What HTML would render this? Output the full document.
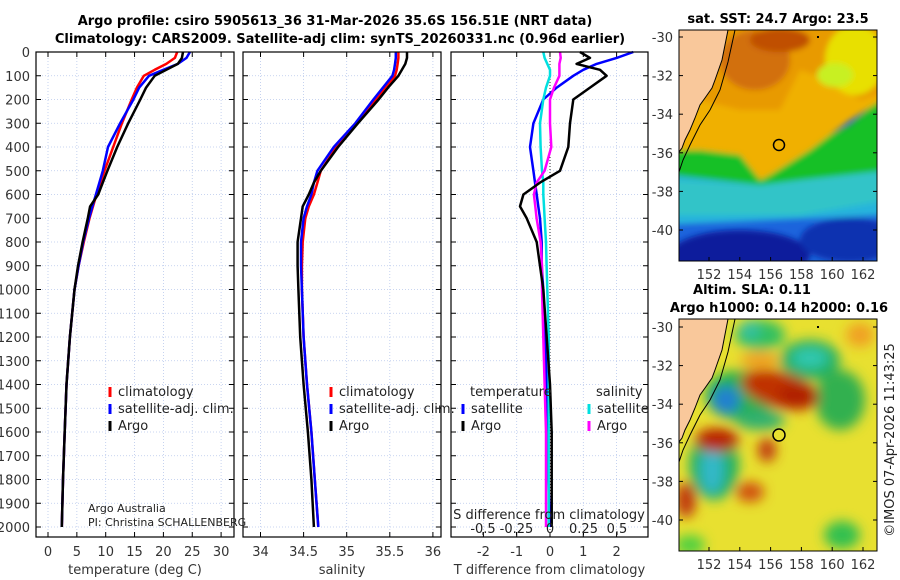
<!DOCTYPE html>
<html><head><meta charset="utf-8"><style>
body{margin:0;background:#fff;}
svg{display:block;font-family:"DejaVu Sans","Liberation Sans",sans-serif;}
</style></head><body>
<svg id="c" width="900" height="580" viewBox="0 0 900 580">
<defs>
<filter id="bl" x="-20%" y="-20%" width="140%" height="140%"><feGaussianBlur stdDeviation="6"/></filter>
<filter id="bl2" x="-20%" y="-20%" width="140%" height="140%"><feGaussianBlur stdDeviation="3"/></filter>
<clipPath id="cm1"><rect x="679" y="30" width="198" height="231"/></clipPath>
<clipPath id="cm2"><rect x="679" y="319" width="198" height="232"/></clipPath>
</defs>
<text x="335" y="25" text-anchor="middle" font-size="13" font-weight="bold">Argo profile: csiro 5905613_36 31-Mar-2026 35.6S 156.51E (NRT data)</text>
<text x="340" y="43" text-anchor="middle" font-size="13" font-weight="bold">Climatology: CARS2009. Satellite-adj clim: synTS_20260331.nc (0.96d earlier)</text>

<g id="maps">
<g clip-path="url(#cm1)">
<rect x="679" y="30" width="198" height="231" fill="#1c64dc"/>
<g filter="url(#bl2)">
<polygon points="670,165 890,150 890,215 670,225" fill="#26b4dc"/>
<polygon points="670,180 760,185 800,175 890,160 890,200 800,215 670,215" fill="#30c4c8"/>
<ellipse cx="740" cy="255" rx="70" ry="25" fill="#0a1e9c"/>
<ellipse cx="850" cy="240" rx="50" ry="22" fill="#0c30b0"/>
<polygon points="670,140 760,155 800,150 850,125 890,90 890,170 800,180 760,185 670,175" fill="#18c028"/>
<polygon points="670,20 890,20 890,95 850,120 810,150 770,175 760,180 740,155 700,150 670,150" fill="#f0b000"/>
<polygon points="670,20 890,20 890,90 860,100 830,80 800,70 780,110 740,110 700,100" fill="#e89a00"/>
<ellipse cx="755" cy="60" rx="35" ry="30" fill="#d27008"/>
<ellipse cx="780" cy="40" rx="30" ry="12" fill="#c05000"/>
<ellipse cx="855" cy="60" rx="30" ry="35" fill="#e8e000"/>
<ellipse cx="835" cy="75" rx="18" ry="12" fill="#c8f020"/>
</g>
<polygon points="679,30 728,30 722,60 715,80 712,88 705,98 700,105 695,118 690,130 685,140 682,148 679,152" fill="#f9c89b" stroke="#000" stroke-width="1"/>
<polyline points="735,30 728,62 720,90 710,110 700,125 690,145 683,160 679,172" fill="none" stroke="#000" stroke-width="1"/>
<circle cx="779" cy="145" r="5.5" fill="none" stroke="#000" stroke-width="1.5"/>
<rect x="817" y="36" width="2" height="2" fill="#000"/>
</g>
<rect x="679" y="30" width="198" height="231" fill="none" stroke="#000"/>
<text x="778" y="23" text-anchor="middle" font-size="13" font-weight="bold">sat. SST: 24.7 Argo: 23.5</text>

<g clip-path="url(#cm2)">
<rect x="679" y="319" width="198" height="232" fill="#e8e030"/>
<g filter="url(#bl)">
<ellipse cx="760" cy="335" rx="25" ry="15" fill="#30c060"/>
<ellipse cx="750" cy="330" rx="10" ry="10" fill="#30c0a0"/>
<ellipse cx="810" cy="360" rx="30" ry="20" fill="#20b060"/>
<ellipse cx="810" cy="358" rx="18" ry="10" fill="#30c8b0"/>
<ellipse cx="840" cy="400" rx="25" ry="30" fill="#30b050"/>
<ellipse cx="740" cy="395" rx="35" ry="25" fill="#20b050"/>
<ellipse cx="726" cy="400" rx="14" ry="14" fill="#2080d0"/>
<ellipse cx="714" cy="465" rx="25" ry="35" fill="#20b060"/>
<ellipse cx="712" cy="470" rx="12" ry="24" fill="#30b8c8"/>
<ellipse cx="760" cy="420" rx="25" ry="10" fill="#30b070"/>
<ellipse cx="842" cy="535" rx="18" ry="14" fill="#30c050"/>
<ellipse cx="690" cy="545" rx="15" ry="10" fill="#50d040"/>
<ellipse cx="780" cy="390" rx="40" ry="18" fill="#c03000" transform="rotate(15 780 390)"/>
<ellipse cx="798" cy="395" rx="20" ry="12" fill="#b02000"/>
<ellipse cx="717" cy="440" rx="22" ry="12" fill="#b82000"/>
<ellipse cx="767" cy="450" rx="9" ry="12" fill="#c03810"/>
<ellipse cx="686" cy="500" rx="10" ry="18" fill="#c03810"/>
<ellipse cx="750" cy="492" rx="14" ry="10" fill="#d05010"/>
<ellipse cx="860" cy="335" rx="14" ry="12" fill="#f0a020"/>
<ellipse cx="760" cy="360" rx="20" ry="8" fill="#f0a020"/>
</g>
<polygon points="679,319 728,319 722,350 715,370 712,378 705,388 700,395 695,408 690,420 685,430 682,438 679,442" fill="#f9c89b" stroke="#000" stroke-width="1"/>
<polyline points="735,319 728,352 720,380 710,400 700,415 690,435 683,450 679,462" fill="none" stroke="#000" stroke-width="1"/>
<circle cx="779" cy="435" r="6" fill="#e8e030" stroke="#000" stroke-width="1.5"/>
<rect x="817" y="326" width="2" height="2" fill="#000"/>
</g>
<rect x="679" y="319" width="198" height="232" fill="none" stroke="#000"/>
<text x="752" y="294" text-anchor="middle" font-size="13" font-weight="bold">Altim. SLA: 0.11</text>
<text x="779" y="312" text-anchor="middle" font-size="13" font-weight="bold">Argo h1000: 0.14 h2000: 0.16</text>
<text transform="translate(894,440) rotate(-90)" text-anchor="middle" font-size="13" fill="#222">©IMOS 07-Apr-2026 11:43:25</text>
</g>
<g id="plots"></g>
</svg>
<script>
const depths=[0,25,50,75,100,150,200,300,400,500,550,600,650,700,800,900,1000,1200,1400,1600,1800,2000];
const tArgo=[23.4,23.2,22.5,20.5,18.5,17,16,13.9,12,10.3,9.5,8.7,7.3,6.9,6,5.2,4.6,3.8,3.2,2.9,2.6,2.4];
const tClim=[22.4,22,20.5,18.5,16.6,15.4,14.5,12.8,11.3,9.8,9.1,8.4,7.8,7.2,6.2,5.3,4.6,3.8,3.2,2.9,2.6,2.4];
const tSat=[24.6,24,22.5,20,17.5,15.8,14.8,12.5,10.4,9.5,8.9,8.3,7.7,7.1,6.1,5.3,4.6,3.8,3.2,2.9,2.6,2.4];
const sArgo=[35.7,35.7,35.68,35.64,35.6,35.48,35.37,35.13,34.9,34.7,34.62,34.56,34.49,34.47,34.43,34.43,34.44,34.46,34.5,34.55,34.59,34.62];
const sClim=[35.6,35.6,35.59,35.58,35.56,35.45,35.34,35.12,34.88,34.7,34.66,34.62,34.56,34.52,34.49,34.48,34.48,34.5,34.54,34.59,34.63,34.67];
const sSat=[35.57,35.57,35.56,35.55,35.53,35.42,35.31,35.1,34.85,34.66,34.62,34.59,34.54,34.5,34.47,34.47,34.48,34.5,34.54,34.59,34.63,34.67];
const dT_Argo=[0.9,1.2,0.8,1.5,1.7,1.2,0.7,0.6,0.55,0.3,-0.3,-0.8,-0.9,-0.7,-0.4,-0.3,-0.2,-0.1,0,0.05,0.05,0.05];
const dT_Sat=[2.5,2.0,1.4,1.0,0.7,0.2,-0.2,-0.5,-0.6,-0.5,-0.45,-0.4,-0.35,-0.3,-0.25,-0.25,-0.2,-0.15,-0.1,-0.05,-0.05,0];
const dS_Argo=[0.075,0.08,0.07,0.07,0.07,0.03,0,0,0.01,-0.04,-0.1,-0.12,-0.11,-0.1,-0.07,-0.06,-0.06,-0.05,-0.04,-0.03,-0.03,-0.03];
const dS_Sat=[-0.05,-0.04,-0.02,0,0,-0.03,-0.05,-0.075,-0.07,-0.06,-0.05,-0.05,-0.045,-0.04,-0.03,-0.025,-0.02,-0.01,-0.01,-0.01,-0.01,-0.01];
const depthTicks=[0,100,200,300,400,500,600,700,800,900,1000,1100,1200,1300,1400,1500,1600,1700,1800,1900,2000];
const tTicks=[0,5,10,15,20,25,30];
const sTicks=[34,34.5,35,35.5,36];
const dTTicks=[-2,-1,0,1,2];
const dSTicks=[-0.5,-0.25,0,0.25,0.5];
const dSLabels=["-0.5","-0.25","0","0.25","0.5"];

const NS="http://www.w3.org/2000/svg";
const root=document.getElementById('plots');
function mk(tag,at,parent){const e=document.createElementNS(NS,tag);for(const k in at)e.setAttribute(k,at[k]);(parent||root).appendChild(e);return e;}
const Y0=52,YB=537;
const py=d=>Y0+d*0.2375;
const tx=t=>48+t*5.77;
const sx=s=>260.5+(s-34)*86.2;
const dx=t=>550+t*33.3;
const dsx=s=>550+s*134;
const panels=[{l:36,r:234,ticks:tTicks,f:tx,lab:t=>String(t),xl:"temperature (deg C)",name:"temperature"},
 {l:243,r:441,ticks:sTicks,f:sx,lab:t=>String(t),xl:"salinity",name:"salinity"},
 {l:451,r:648,ticks:dTTicks,f:dx,lab:t=>String(t),xl:"T difference from climatology",name:"difference"}];
panels.forEach((p,pi)=>{
  const g=mk('g',{});
  
  
  depthTicks.forEach(d=>{const l=mk('line',{x1:p.l,x2:p.r,y1:py(d),y2:py(d),stroke:'#b8c8ec','stroke-width':0.8,'stroke-dasharray':'1,2'},g);
    
    mk('line',{x1:p.l,x2:p.l+5,y1:py(d),y2:py(d),stroke:'#000'},g);mk('line',{x1:p.r-5,x2:p.r,y1:py(d),y2:py(d),stroke:'#000'},g);
  });
  p.ticks.forEach(t=>{const x=p.f(t);const l=mk('line',{x1:x,x2:x,y1:Y0,y2:YB,stroke:'#b8c8ec','stroke-width':0.8,'stroke-dasharray':'1,2'},g);
    
    mk('line',{x1:x,x2:x,y1:YB-5,y2:YB,stroke:'#000'},g);mk('line',{x1:x,x2:x,y1:Y0,y2:Y0+5,stroke:'#000'},g);
    const tt=mk('text',{x:x,y:556,'text-anchor':'middle','font-size':13,fill:'#333'},g);tt.textContent=p.lab(t);
    
  });
  const xl=mk('text',{x:(p.l+p.r)/2,y:574,'text-anchor':'middle','font-size':13,fill:'#333'},g);xl.textContent=p.xl;
  
});
depthTicks.forEach(d=>{const t=mk('text',{x:30,y:py(d)+5,'text-anchor':'end','font-size':13,fill:'#333'});t.textContent=d;
  });
function line(xs,fx,color,name,w){const pts=depths.map((d,i)=>fx(xs[i]).toFixed(1)+','+py(d).toFixed(1)).join(' ');
  const l=mk('polyline',{points:pts,fill:'none',stroke:color,'stroke-width':w||2.5,'stroke-linejoin':'round'});
  return l;}
line(tClim,tx,'#ff0000','temp-climatology-line');
line(tSat,tx,'#0000ff','temp-satellite-line');
line(tArgo,tx,'#000000','temp-argo-line');
line(sClim,sx,'#ff0000','sal-climatology-line');
line(sSat,sx,'#0000ff','sal-satellite-line');
line(sArgo,sx,'#000000','sal-argo-line');
mk('line',{x1:dx(0),x2:dx(0),y1:Y0,y2:YB,stroke:'#000','stroke-width':0.8,'stroke-dasharray':'1,2'});
line(dT_Sat,dx,'#0000ff','tdiff-satellite-line');
line(dS_Sat,dsx,'#00e0e0','sdiff-satellite-line');
line(dS_Argo,dsx,'#ff00ff','sdiff-argo-line');
line(dT_Argo,dx,'#000000','tdiff-argo-line');
dSTicks.forEach((s,i)=>{const x=dsx(s);mk('line',{x1:x,x2:x,y1:YB-5,y2:YB-2,stroke:'#000'});
  const t=mk('text',{x:x,y:533,'text-anchor':'middle','font-size':13,fill:'#222'});t.textContent=dSLabels[i];
  });
{const t=mk('text',{x:549,y:519,'text-anchor':'middle','font-size':13,fill:'#222'});t.textContent='S difference from climatology';
  }
panels.forEach(p=>{const r=mk('rect',{x:p.l,y:Y0,width:p.r-p.l,height:YB-Y0,fill:'none',stroke:'#000','stroke-width':1.2});
  });
function leg(x,y,color,label,name){const g=mk('g',{});
  mk('line',{x1:x,x2:x,y1:y-9,y2:y+1,stroke:color,'stroke-width':3},g);
  const t=mk('text',{x:x+8,y:y,'font-size':13,fill:'#222'},g);t.textContent=label;}
leg(110,396,'#ff0000','climatology','legend-climatology');
leg(110,413,'#0000ff','satellite-adj. clim.','legend-satellite-adj');
leg(110,430,'#000000','Argo','legend-argo');
leg(331,396,'#ff0000','climatology','legend-sal-climatology');
leg(331,413,'#0000ff','satellite-adj. clim.','legend-sal-satellite-adj');
leg(331,430,'#000000','Argo','legend-sal-argo');
{const t=mk('text',{x:470,y:396,'font-size':13,fill:'#222'});t.textContent='temperature';
 const t2=mk('text',{x:596,y:396,'font-size':13,fill:'#222'});t2.textContent='salinity';}
leg(463,413,'#0000ff','satellite','legend-tdiff-satellite');
leg(463,430,'#000000','Argo','legend-tdiff-argo');
leg(589,413,'#00e0e0','satellite','legend-sdiff-satellite');
leg(589,430,'#ff00ff','Argo','legend-sdiff-argo');
{const t=mk('text',{x:88,y:512,'font-size':11,fill:'#222'});t.textContent='Argo Australia';
 const t2=mk('text',{x:88,y:526,'font-size':11,fill:'#222'});t2.textContent='PI: Christina SCHALLENBERG';}
const latT=[-30,-32,-34,-36,-38,-40], lonT=[152,154,156,158,160,162];
const mlx=l=>709+(l-152)*15.4;
[[30,37,261],[319,327,551]].forEach(([top,y30,bot],mi)=>{
  latT.forEach(la=>{const y=y30+(-30-la)*19.3;mk('line',{x1:679,x2:683,y1:y,y2:y,stroke:'#000'});mk('line',{x1:873,x2:877,y1:y,y2:y,stroke:'#000'});
    const t=mk('text',{x:673,y:y+5,'text-anchor':'end','font-size':13,fill:'#333'});t.textContent=la;
    });
  lonT.forEach(lo=>{const x=mlx(lo);mk('line',{x1:x,x2:x,y1:bot-4,y2:bot,stroke:'#000'});
    const t=mk('text',{x:x,y:bot+18,'text-anchor':'middle','font-size':13,fill:'#333'});t.textContent=lo;
    });
});
</script>
</body></html>
